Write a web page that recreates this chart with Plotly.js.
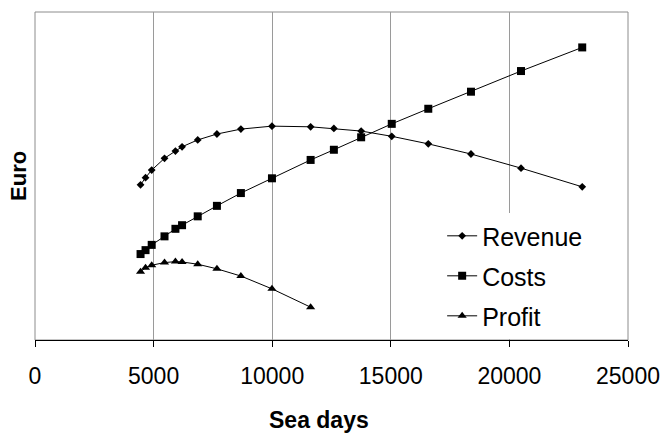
<!DOCTYPE html>
<html>
<head>
<meta charset="utf-8">
<script src="https://cdn.plot.ly/plotly-3.0.1.min.js"></script>
<style>html,body{margin:0;padding:0;background:#fff;}#chart{width:663px;height:433px;}</style>
</head>
<body>
<div id="chart"></div>
<script>
// Sea days (x) and values in Euro (relative units, no y tick labels in original)
const revenueX = [4450, 4660, 4920, 5460, 5920, 6200, 6860, 7670, 8680, 9990, 11620, 12600, 13750, 15040, 16580, 18380, 20490, 23070];
const revenueY = [47.3, 49.5, 51.8, 55.4, 57.6, 58.9, 61.0, 62.8, 64.3, 65.2, 65.0, 64.5, 63.7, 62.1, 59.8, 56.7, 52.4, 46.7];
const costsX   = [4450, 4660, 4920, 5460, 5920, 6200, 6860, 7670, 8680, 9990, 11620, 12600, 13750, 15040, 16580, 18380, 20490, 23070];
const costsY   = [26.2, 27.4, 29.0, 31.6, 33.9, 35.0, 37.7, 40.9, 44.8, 49.3, 54.9, 58.0, 61.8, 65.9, 70.5, 75.7, 82.0, 89.2];
const profitX  = [4450, 4660, 4920, 5460, 5920, 6200, 6860, 7670, 8680, 9990, 11620];
const profitY  = [20.8, 22.0, 22.8, 23.6, 23.9, 23.8, 23.1, 21.7, 19.5, 15.6, 10.0];
const xTicks   = [0, 5000, 10000, 15000, 20000, 25000];
const xTitle   = 'Sea days';
const yTitle   = 'Euro';

const FONT = 'Liberation Sans, Arial, sans-serif';
const lineStyle = {color: '#000', width: 1};

const traces = [
  {x: revenueX, y: revenueY, name: 'Revenue', mode: 'lines+markers', legendgroup: 'a',
   line: lineStyle, marker: {symbol: 'diamond', size: 6, color: '#000'}},
  {x: costsX, y: costsY, name: 'Costs', mode: 'lines+markers', legendgroup: 'b',
   line: lineStyle, marker: {symbol: 'square', size: 8, color: '#000'}},
  {x: profitX, y: profitY, name: 'Profit', mode: 'lines+markers', legendgroup: 'c',
   line: lineStyle, marker: {symbol: 'triangle-up', size: 8, color: '#000'}}
];

const layout = {
  width: 663, height: 433,
  margin: {l: 35, r: 35, t: 12, b: 93, pad: 0},
  paper_bgcolor: '#fff', plot_bgcolor: '#fff',
  font: {family: FONT, color: '#000', size: 23},
  showlegend: true,
  legend: {
    x: 0.6866, y: 0.387, xanchor: 'left', yanchor: 'top',
    bgcolor: '#fff', borderwidth: 0,
    font: {family: FONT, size: 25, color: '#000'},
    tracegroupgap: 4.5
  },
  xaxis: {
    range: [0, 25000], tickvals: xTicks, ticktext: xTicks.map(String),
    showgrid: true, gridcolor: '#9a9a9a', gridwidth: 1,
    showline: true, linecolor: '#000', linewidth: 1,
    ticks: 'outside', ticklen: 6, tickcolor: '#000', tickwidth: 1,
    ticklabelstandoff: 9,
    tickfont: {family: FONT, size: 23, color: '#000'},
    zeroline: false, fixedrange: true
  },
  yaxis: {
    range: [0, 100], showticklabels: false, ticks: '',
    showgrid: false, zeroline: false, showline: false, fixedrange: true
  },
  annotations: [
    {text: '<b>' + xTitle + '</b>', xref: 'paper', yref: 'paper', x: 0.479, y: -0.244,
     xanchor: 'center', yanchor: 'middle', showarrow: false,
     font: {family: FONT, size: 23, color: '#000'}},
    {text: '<b>' + yTitle + '</b>', xref: 'paper', yref: 'paper', x: -0.0287, y: 0.5,
     xanchor: 'center', yanchor: 'middle', textangle: -90, showarrow: false,
     font: {family: FONT, size: 22, color: '#000'}}
  ],
  shapes: [{type: 'rect', xref: 'paper', yref: 'paper', x0: 0, x1: 1, y0: 0, y1: 1,
            line: {color: '#8c8c8c', width: 1}, layer: 'below'}]
};

Plotly.newPlot('chart', traces, layout, {displayModeBar: false, staticPlot: true});
</script>
</body>
</html>
